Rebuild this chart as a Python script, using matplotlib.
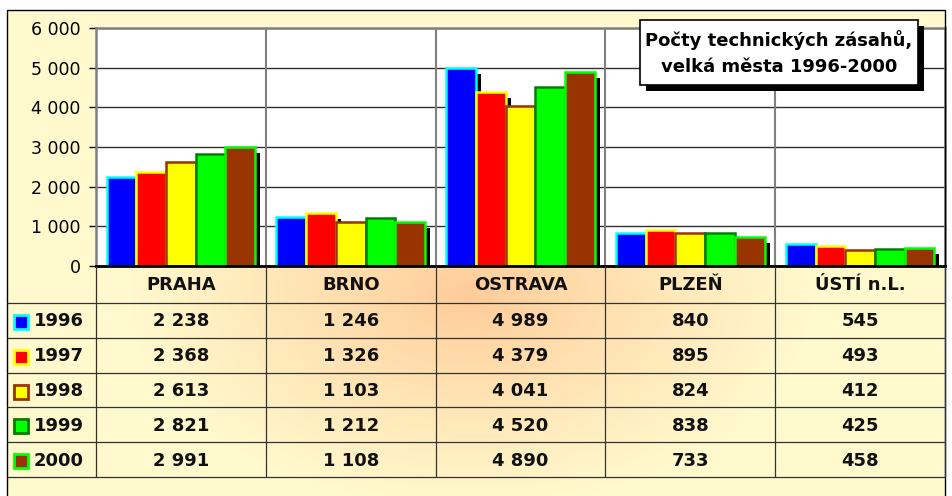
import numpy as np
import matplotlib
matplotlib.use('Agg')
import matplotlib.pyplot as plt
import matplotlib.patches as mpatches
from matplotlib.transforms import ScaledTranslation

# ── data ─────────────────────────────────────────────────────
cities = ['PRAHA', 'BRNO', 'OSTRAVA', 'PLZEŇ', 'ÚSTÍ n.L.']
years = ['1996', '1997', '1998', '1999', '2000']
v1996 = [2238, 1246, 4989, 840, 545]
v1997 = [2368, 1326, 4379, 895, 493]
v1998 = [2613, 1103, 4041, 824, 412]
v1999 = [2821, 1212, 4520, 838, 425]
v2000 = [2991, 1108, 4890, 733, 458]
series = [v1996, v1997, v1998, v1999, v2000]

face_colors = ['#0000FF', '#FF0000', '#FFFF00', '#00FF00', '#993300']
edge_colors = ['#00FFFF', '#FFFF00', '#993300', '#008000', '#00FF00']

title_lines = ['Počty technických zásahů,', 'velká města 1996-2000']

W, H = 952, 496
# layout in pixels
PLOT_L, PLOT_R, PLOT_T, PLOT_B = 96, 945, 28, 266
FRAME_L, FRAME_T = 7, 10
HEAD_B, TABLE_B = 303, 477


def fmt(v):
    return f'{v:,}'.replace(',', ' ')


plt.rcParams['font.family'] = ['DejaVu Sans']

fig = plt.figure(figsize=(W / 100, H / 100), dpi=100)
fig.patch.set_facecolor('white')

# ── background gradient (pixel coordinates) ──────────────────
bg = fig.add_axes([0, 0, 1, 1], zorder=-10)
yy, xx = np.mgrid[0:H, 0:W]
t = np.sqrt(((xx - 470) / 340.0) ** 2 + ((yy - 295) / 210.0) ** 2)
t = np.clip(t, 0, 1) ** 0.9
c_in = np.array([255, 203, 152]) / 255
c_out = np.array([255, 249, 205]) / 255
grad = c_in[None, None, :] + (c_out - c_in)[None, None, :] * t[..., None]
outside = (xx < FRAME_L) | (xx > PLOT_R) | (yy < FRAME_T)
grad[outside] = 1.0
bg.imshow(grad, extent=[0, W, H, 0], interpolation='bilinear')
bg.set_xlim(0, W)
bg.set_ylim(H, 0)
bg.axis('off')

# ── main plot area ──────────────────────────────────────────
ax = fig.add_axes([PLOT_L / W, 1 - PLOT_B / H,
                   (PLOT_R - PLOT_L) / W, (PLOT_B - PLOT_T) / H])
ax.set_facecolor('white')
x = np.arange(len(cities))
bw = 0.175
shadow_tr = ax.transData + ScaledTranslation(5 / 100, -6 / 100, fig.dpi_scale_trans)

for i, vals in enumerate(series):
    ax.bar(x + (i - 2) * bw, vals, bw, color='black', zorder=2,
           transform=shadow_tr)
for i, vals in enumerate(series):
    ax.bar(x + (i - 2) * bw, vals, bw, color=face_colors[i],
           edgecolor=edge_colors[i], linewidth=1.8, zorder=3)

ax.set_xlim(-0.5, len(cities) - 0.5)
ax.set_ylim(0, 6000)
ax.set_yticks(range(0, 6001, 1000))
ax.set_yticklabels([fmt(v) for v in range(0, 6001, 1000)], fontsize=12.5)
ax.set_xticks([])
ax.tick_params(axis='y', length=5, width=1, pad=6, colors='black')
ax.set_axisbelow(True)
ax.yaxis.grid(True, color='#303030', linewidth=1)
for xs in x[:-1] + 0.5:
    ax.axvline(xs, color='#808080', linewidth=1.5, zorder=1)
for side in ['top', 'right', 'left']:
    ax.spines[side].set_color('#808080')
    ax.spines[side].set_linewidth(1.8)
ax.spines['bottom'].set_color('black')
ax.spines['bottom'].set_linewidth(2)
ax.spines['bottom'].set_zorder(4)

# ── overlay in pixel coordinates: table, frame, title ───────
ov = fig.add_axes([0, 0, 1, 1], zorder=10)
ov.set_xlim(0, W)
ov.set_ylim(H, 0)
ov.axis('off')
ov.patch.set_alpha(0)

col_w = (PLOT_R - PLOT_L) / len(cities)
col_edges = PLOT_L + col_w * np.arange(len(cities) + 1)
col_mid = PLOT_L + col_w * (np.arange(len(cities)) + 0.5)
row_h = (TABLE_B - HEAD_B) / len(years)
row_edges = HEAD_B + row_h * np.arange(len(years) + 1)
row_mid = HEAD_B + row_h * (np.arange(len(years)) + 0.5)

line_kw = dict(color='#333333', linewidth=0.9)
ov.hlines(row_edges, FRAME_L, PLOT_R, **line_kw)
ov.vlines(col_edges, PLOT_B, TABLE_B, **line_kw)

for j, city in enumerate(cities):
    ov.text(col_mid[j], (PLOT_B + HEAD_B) / 2 + 1, city, ha='center',
            va='center', fontsize=13, fontweight='bold', color='#111111')
for i, (yr, vals) in enumerate(zip(years, series)):
    cy = row_mid[i] + 1
    ov.add_patch(mpatches.Rectangle((13.5, cy - 6.5), 14, 14,
                                    facecolor=face_colors[i],
                                    edgecolor=edge_colors[i], linewidth=2))
    ov.text(84, cy, yr, ha='right', va='center', fontsize=13,
            fontweight='bold', color='#111111')
    for j, v in enumerate(vals):
        ov.text(col_mid[j], cy, fmt(v), ha='center', va='center',
                fontsize=13, fontweight='bold', color='#111111')

ov.add_patch(mpatches.Rectangle((FRAME_L, FRAME_T), PLOT_R - FRAME_L, 500,
                                fill=False, edgecolor='black', linewidth=1))

ov.add_patch(mpatches.Rectangle((646, 26), 278, 65, facecolor='black',
                                edgecolor='black', linewidth=0))
ov.add_patch(mpatches.Rectangle((640, 20), 278, 65, facecolor='white',
                                edgecolor='black', linewidth=1.2))
ov.text(779, 40, title_lines[0], ha='center', va='center', fontsize=13,
        fontweight='bold')
ov.text(779, 67, title_lines[1], ha='center', va='center', fontsize=13,
        fontweight='bold')

fig.savefig('out.png', dpi=100, facecolor='white')
